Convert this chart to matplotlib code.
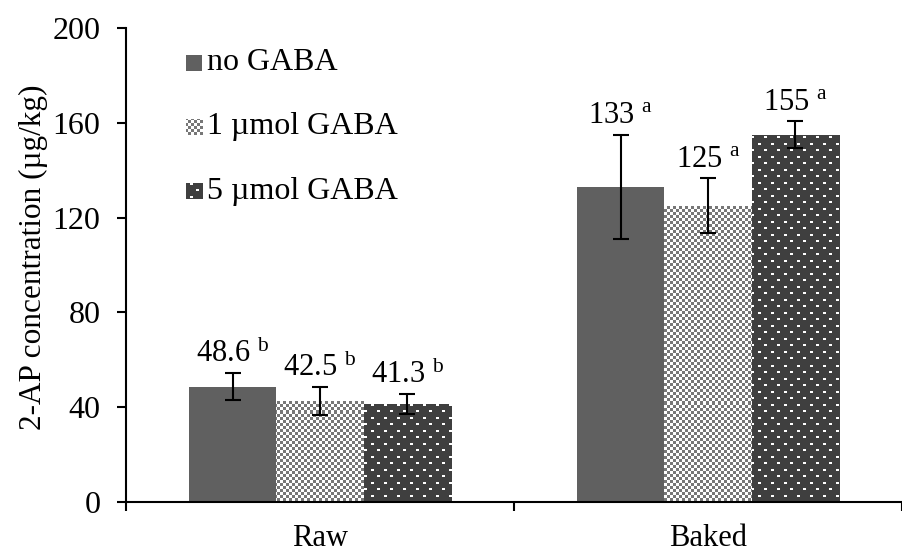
import numpy as np
import matplotlib
matplotlib.use('Agg')
import matplotlib.pyplot as plt
from matplotlib.patches import Rectangle

plt.rcParams['font.family'] = 'Liberation Serif'
plt.rcParams['mathtext.fontset'] = 'custom'
plt.rcParams['mathtext.rm'] = 'Liberation Serif'
plt.rcParams['mathtext.it'] = 'Liberation Serif:italic'

# data
categories = ['Raw', 'Baked']
series = ['no GABA', '1 \u00b5mol GABA', '5 \u00b5mol GABA']
no_gaba = [48.6, 133]
no_gaba_err = [5.7, 22]
gaba1 = [42.5, 125]
gaba1_err = [6.0, 11.5]
gaba5 = [41.3, 155]
gaba5_err = [4.2, 5.7]
value_labels = [['48.6', '133'], ['42.5', '125'], ['41.3', '155']]
letters = [['b', 'a'], ['b', 'a'], ['b', 'a']]

values = [no_gaba, gaba1, gaba5]
errors = [no_gaba_err, gaba1_err, gaba5_err]

W, H = 902, 552
fig = plt.figure(figsize=(W / 100, H / 100), dpi=100)
ax_l, ax_r, ax_t, ax_b = 126, 902, 28, 502
ax = fig.add_axes([ax_l / W, (H - ax_b) / H, (ax_r - ax_l) / W, (ax_b - ax_t) / H])

cat_px = 391.0
xmax = (ax_r - ax_l) / cat_px
ymax = 200
pw, ph = ax_r - ax_l, ax_b - ax_t
dx, dy = xmax / pw, ymax / ph  # one pixel in data units

# pixel patterns covering the whole axes
yy, xx = np.mgrid[0:ph + 2, 0:pw + 2]
checker = np.where(((xx // 3) + (yy // 3)) % 2 == 0, 0.47, 1.0)
checker_rgb = np.dstack([checker] * 3)

dots = np.full(xx.shape, 0.25)
tx, ty = xx % 13, yy % 13
dots[((ty < 2) & (tx < 3)) | ((ty >= 6) & (ty < 8) & (tx >= 6) & (tx < 9))] = 1.0
dots_rgb = np.dstack([dots] * 3)

patterns = [None, checker_rgb, dots_rgb]
base_colors = ['#606060', '#ffffff', '#404040']


def fill_pattern(patch, img):
    # shift by a quarter pixel so nearest sampling never lands on a boundary
    ext = (-0.75 * dx, xmax + 1.25 * dx, -0.75 * dy, ymax + 1.25 * dy)
    im = ax.imshow(img, extent=ext, origin='upper',
                   interpolation='nearest', aspect='auto', zorder=2)
    im.set_clip_path(patch)


bw = 88 / cat_px
x = np.arange(len(categories)) + 0.5
for i in range(3):
    xs = x + (i - 1) * bw
    bars = ax.bar(xs, values[i], width=bw, color=base_colors[i], zorder=1)
    if patterns[i] is not None:
        for b in bars:
            fill_pattern(b, patterns[i])
    ax.errorbar(xs, values[i], yerr=errors[i], fmt='none', ecolor='black',
                elinewidth=1.5, capsize=5.5, capthick=1.5, zorder=4)
    for j in range(len(categories)):
        ax.annotate(value_labels[i][j] + r' $^{\mathrm{' + letters[i][j] + '}}$',
                    (xs[j], values[i][j] + errors[i][j]), xytext=(0, 3),
                    textcoords='offset points', ha='center', va='bottom',
                    fontsize=22, zorder=5)

# legend drawn by hand
leg_x = (186 - ax_l) / cat_px
leg_w = 17 / cat_px
leg_rows = [63, 127, 191]
for i in range(3):
    yc = (ax_b - leg_rows[i]) * ymax / ph
    hh = 16 * ymax / ph
    r = Rectangle((leg_x, yc - hh / 2), leg_w, hh, facecolor=base_colors[i],
                  edgecolor='none', zorder=1)
    ax.add_patch(r)
    if patterns[i] is not None:
        fill_pattern(r, patterns[i])
    ax.text(leg_x + leg_w + 5 / cat_px, yc, series[i], fontsize=23,
            va='center', ha='left')

ax.set_xlim(0, xmax)
ax.set_ylim(0, ymax)
ax.set_yticks([0, 40, 80, 120, 160, 200])
ax.tick_params(axis='y', labelsize=23, direction='out', length=6.5, width=1.5, pad=12)
ax.set_xticks([0, 1, 2])
ax.set_xticklabels([])
ax.tick_params(axis='x', which='major', direction='out', length=6.5, width=1.5)
ax.set_xticks(x, minor=True)
ax.set_xticklabels(categories, minor=True)
ax.tick_params(axis='x', which='minor', length=0, labelsize=22, pad=16)

for s in ['top', 'right']:
    ax.spines[s].set_visible(False)
for s in ['left', 'bottom']:
    ax.spines[s].set_linewidth(1.5)

ax.set_ylabel('2-AP concentration (\u00b5g/kg)', fontsize=22.5)
ax.yaxis.set_label_coords(-0.1, 0.517)

fig.savefig('out.png', dpi=100)
